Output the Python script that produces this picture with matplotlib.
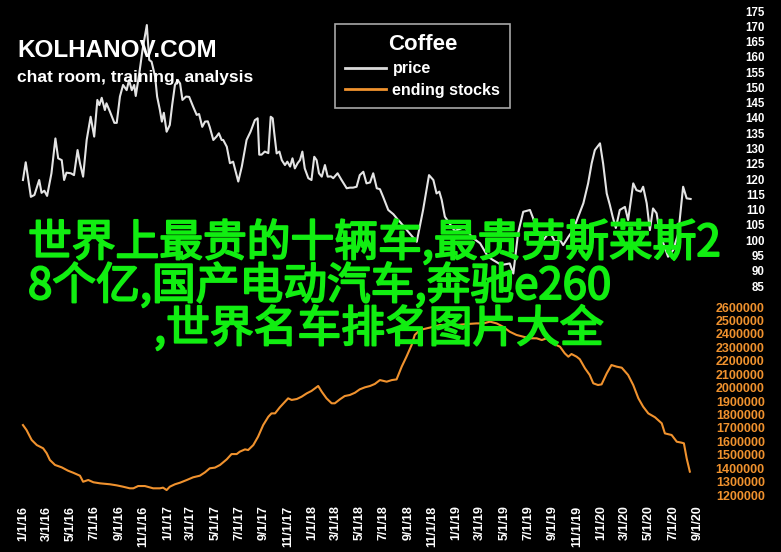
import matplotlib
matplotlib.use("Agg")
import matplotlib.pyplot as plt
import matplotlib.dates as mdates
import matplotlib.patheffects as pe
from matplotlib.lines import Line2D
from matplotlib.ticker import FuncFormatter
import pandas as pd

plt.rcParams['font.family'] = ['Liberation Sans', 'DejaVu Sans']
plt.rcParams['font.weight'] = 'bold'

start = pd.Timestamp('2016-01-01')

# coffee price (days after 1/1/16, value)
price_days = [0, 7, 20, 29, 41, 47, 54, 61, 72, 82, 89, 98, 104, 110, 121, 129, 138, 144, 152, 161,
              171, 180, 188, 193, 199, 207, 211, 220, 231, 237, 245, 253, 262, 268, 275, 281, 285, 294,
              302, 313, 319, 325, 334, 339, 346, 351, 356, 363, 371, 377, 384, 391, 397, 403, 412, 420,
              430, 439, 445, 453, 460, 467, 472, 481, 489, 495, 502, 506, 515, 523, 531, 544, 553, 565,
              575, 586, 593, 597, 603, 611, 620, 626, 631, 635, 641, 648, 654, 662, 668, 675, 681, 687,
              694, 700, 706, 712, 721, 729, 736, 742, 748, 755, 763, 770, 778, 784, 795, 805, 818, 826,
              834, 843, 851, 860, 868, 877, 885, 894, 902, 910, 923, 936, 948, 952, 972, 995, 1011, 1026,
              1037, 1045, 1052, 1058, 1066, 1091, 1117, 1134, 1155, 1175, 1188, 1209, 1230, 1239, 1251,
              1264, 1281, 1289, 1298, 1315, 1331, 1344, 1357, 1365, 1378, 1390, 1403, 1416, 1428, 1437,
              1445, 1458, 1466, 1475, 1483, 1490, 1498, 1508, 1521, 1529, 1542, 1550, 1561, 1567, 1576,
              1584, 1592, 1601, 1609, 1618, 1630, 1643, 1656, 1668, 1677, 1687]
price = [119.7, 125.5, 114.2, 114.8, 119.7, 115.5, 116.2, 114.5, 121.9, 133.3, 126.8, 126.2, 119.7, 122.1,
         121.9, 121.3, 129.5, 125.2, 120.8, 132.8, 140.4, 133.9, 145.9, 144.2, 146.6, 142.6, 144.8, 142.0,
         138.4, 138.4, 147.0, 150.8, 149.1, 152.4, 149.1, 150.8, 147.2, 154.6, 162.2, 170.4, 159.0, 158.4,
         153.5, 147.0, 142.6, 138.8, 141.7, 135.5, 137.7, 144.2, 150.8, 152.4, 151.3, 145.9, 147.0, 146.9,
         143.7, 141.0, 141.3, 137.1, 138.8, 138.9, 137.0, 132.8, 133.9, 135.0, 132.8, 132.8, 130.6, 125.2,
         125.7, 119.2, 124.1, 132.8, 135.5, 139.3, 139.9, 128.0, 128.0, 129.0, 128.5, 140.4, 139.9, 135.0,
         128.4, 129.0, 126.2, 124.6, 125.7, 124.1, 126.8, 123.5, 125.2, 126.2, 129.0, 123.5, 120.3, 119.7,
         127.3, 126.2, 121.9, 120.8, 124.6, 120.8, 120.9, 120.3, 121.9, 119.7, 117.0, 117.2, 117.2, 117.5,
         121.3, 122.4, 118.6, 118.9, 121.9, 117.0, 116.7, 114.2, 109.9, 108.5, 106.6, 106.1, 103.0, 99.5,
         109.9, 121.3, 119.7, 115.3, 115.9, 113.2, 107.7, 103.0, 104.4, 101.0, 99.0, 94.6, 93.5, 91.9,
         92.4, 89.1, 102.3, 109.3, 109.9, 107.2, 103.3, 100.1, 102.8, 99.5, 100.1, 98.4, 101.1, 103.3,
         107.7, 112.1, 118.6, 125.2, 129.5, 131.7, 125.0, 115.3, 111.5, 107.7, 104.0, 109.9, 110.9, 106.6,
         118.6, 116.4, 115.9, 117.5, 112.1, 103.3, 110.4, 108.8, 102.3, 99.0, 94.6, 96.8, 102.3, 117.5,
         113.7, 113.5]

# ending stocks
stock_days = [0, 9, 22, 35, 51, 60, 68, 81, 98, 114, 127, 144, 152, 165, 178, 195, 220, 237, 253, 270,
              279, 291, 308, 321, 329, 346, 354, 363, 371, 384, 397, 414, 430, 447, 460, 472, 485, 498,
              515, 527, 540, 548, 561, 569, 582, 594, 607, 620, 628, 637, 649, 662, 670, 679, 692, 704,
              717, 729, 738, 746, 755, 767, 780, 788, 801, 813, 826, 839, 851, 864, 877, 889, 902, 919,
              932, 944, 957, 969, 982, 990, 1003, 1020, 1037, 1054, 1070, 1096, 1121, 1146, 1163, 1180,
              1197, 1213, 1230, 1247, 1264, 1281, 1298, 1311, 1323, 1331, 1344, 1357, 1369, 1378, 1386,
              1399, 1407, 1420, 1432, 1441, 1453, 1462, 1475, 1487, 1500, 1513, 1529, 1542, 1555, 1567,
              1580, 1597, 1614, 1622, 1639, 1652, 1664, 1670, 1677, 1685]
stocks = [1721, 1684, 1610, 1572, 1548, 1511, 1461, 1424, 1406, 1381, 1366, 1344, 1299, 1312, 1295, 1287,
          1280, 1272, 1262, 1250, 1250, 1267, 1267, 1257, 1250, 1250, 1255, 1237, 1262, 1280, 1292, 1312,
          1332, 1344, 1369, 1399, 1404, 1424, 1466, 1505, 1505, 1523, 1540, 1535, 1572, 1634, 1721, 1783,
          1808, 1808, 1853, 1895, 1920, 1908, 1915, 1932, 1957, 1975, 1995, 2012, 1969, 1920, 1883, 1883,
          1913, 1937, 1945, 1962, 1987, 2002, 2012, 2027, 2056, 2044, 2056, 2061, 2156, 2230, 2317, 2392,
          2429, 2441, 2453, 2466, 2466, 2466, 2473, 2478, 2478, 2491, 2478, 2453, 2416, 2392, 2379, 2367,
          2367, 2354, 2367, 2342, 2322, 2304, 2255, 2230, 2250, 2230, 2211, 2144, 2094, 2032, 2019, 2024,
          2106, 2168, 2156, 2148, 2094, 2019, 1920, 1858, 1808, 1779, 1734, 1659, 1647, 1597, 1590, 1585,
          1473, 1374]
stocks = [s * 1000 for s in stocks]

price_ticks = list(range(85, 176, 5))
stock_ticks = list(range(1200000, 2600001, 100000))

headline = ['世界上最贵的十辆车,最贵劳斯莱斯2',
            '8个亿,国产电动汽车,奔驰e260',
            ',世界名车排名图片大全']

W, H = 781, 552
fig = plt.figure(figsize=(W / 100, H / 100), dpi=100, facecolor='black')
ax = fig.add_axes([0, 1 - 500 / H, 712 / W, 500 / H], facecolor='black')
ax2 = ax.twinx()
ax2.patch.set_visible(False)

price_dates = start + pd.to_timedelta(price_days, unit='D')
stock_dates = start + pd.to_timedelta(stock_days, unit='D')

ax.plot(price_dates, price, color='#e4e4e4', lw=1.5, label='price')
ax2.plot(stock_dates, stocks, color='#f0922e', lw=1.5)

ax.set_xlim(start - pd.Timedelta(days=58), start + pd.Timedelta(days=1741))
ax.set_ylim(15.0, 178.6)
ax2.set_ylim(1163000, 4886000)

for a in (ax, ax2):
    for s in a.spines.values():
        s.set_visible(False)

ax.xaxis.set_major_locator(mdates.MonthLocator(bymonth=[1, 3, 5, 7, 9, 11]))
ax.xaxis.set_major_formatter(FuncFormatter(
    lambda v, p: (lambda d: f"{d.month}/{d.day}/{d.year % 100}")(mdates.num2date(v))))
ax.tick_params(axis='x', length=0, pad=4, labelsize=9, labelcolor='white', labelrotation=90)

ax.yaxis.tick_right()
ax.set_yticks(price_ticks)
ax.tick_params(axis='y', length=0, pad=38, labelsize=8.3, labelcolor='white')
ax2.set_yticks(stock_ticks)
ax2.yaxis.set_major_formatter(FuncFormatter(lambda v, p: f"{int(v)}"))
ax2.tick_params(axis='y', length=0, pad=38, labelsize=9, labelcolor='#f0922e')
plt.setp(ax.get_yticklabels(), ha='right')
plt.setp(ax2.get_yticklabels(), ha='right')

# brand text
fig.text(17 / W, 1 - 57 / H, 'KOLHANOV.COM', color='white', fontsize=17.5, fontweight='bold', va='baseline')
fig.text(17 / W, 1 - 82 / H, 'chat room, training, analysis', color='white', fontsize=12.5,
         fontweight='bold', va='baseline')

# legend
handles = [Line2D([], [], color='#d9d9d9', lw=2, label='price'),
           Line2D([], [], color='#f0922e', lw=2, label='ending stocks')]
leg = ax.legend(handles=handles, title='Coffee', loc='upper left',
                bbox_to_anchor=(335 / W, 1 - 24 / H), bbox_transform=fig.transFigure,
                borderaxespad=0, fancybox=False, framealpha=1, facecolor='black', edgecolor='#a8a8a8',
                prop={'size': 11.5, 'weight': 'bold'}, handlelength=2.6, handletextpad=0.4,
                labelspacing=0.42, borderpad=0.6,
                title_fontproperties={'size': 16, 'weight': 'bold'})
for t in leg.get_texts():
    t.set_color('white')
leg.get_title().set_color('white')
leg.get_frame().set_linewidth(1.2)

# green overlay headline (regular weight, thickened a little)
cjk = ['Noto Sans CJK SC', 'DejaVu Sans']
green = '#11ee11'
for txt, x, y in zip(headline, [28, 28, 154], [256, 299, 342]):
    fig.text(x / W, 1 - y / H, txt, color=green, fontsize=31.5, family=cjk, va='baseline',
             fontweight='normal', path_effects=[pe.withStroke(linewidth=1.4, foreground=green)])

fig.savefig('out.png', dpi=100, facecolor='black')
